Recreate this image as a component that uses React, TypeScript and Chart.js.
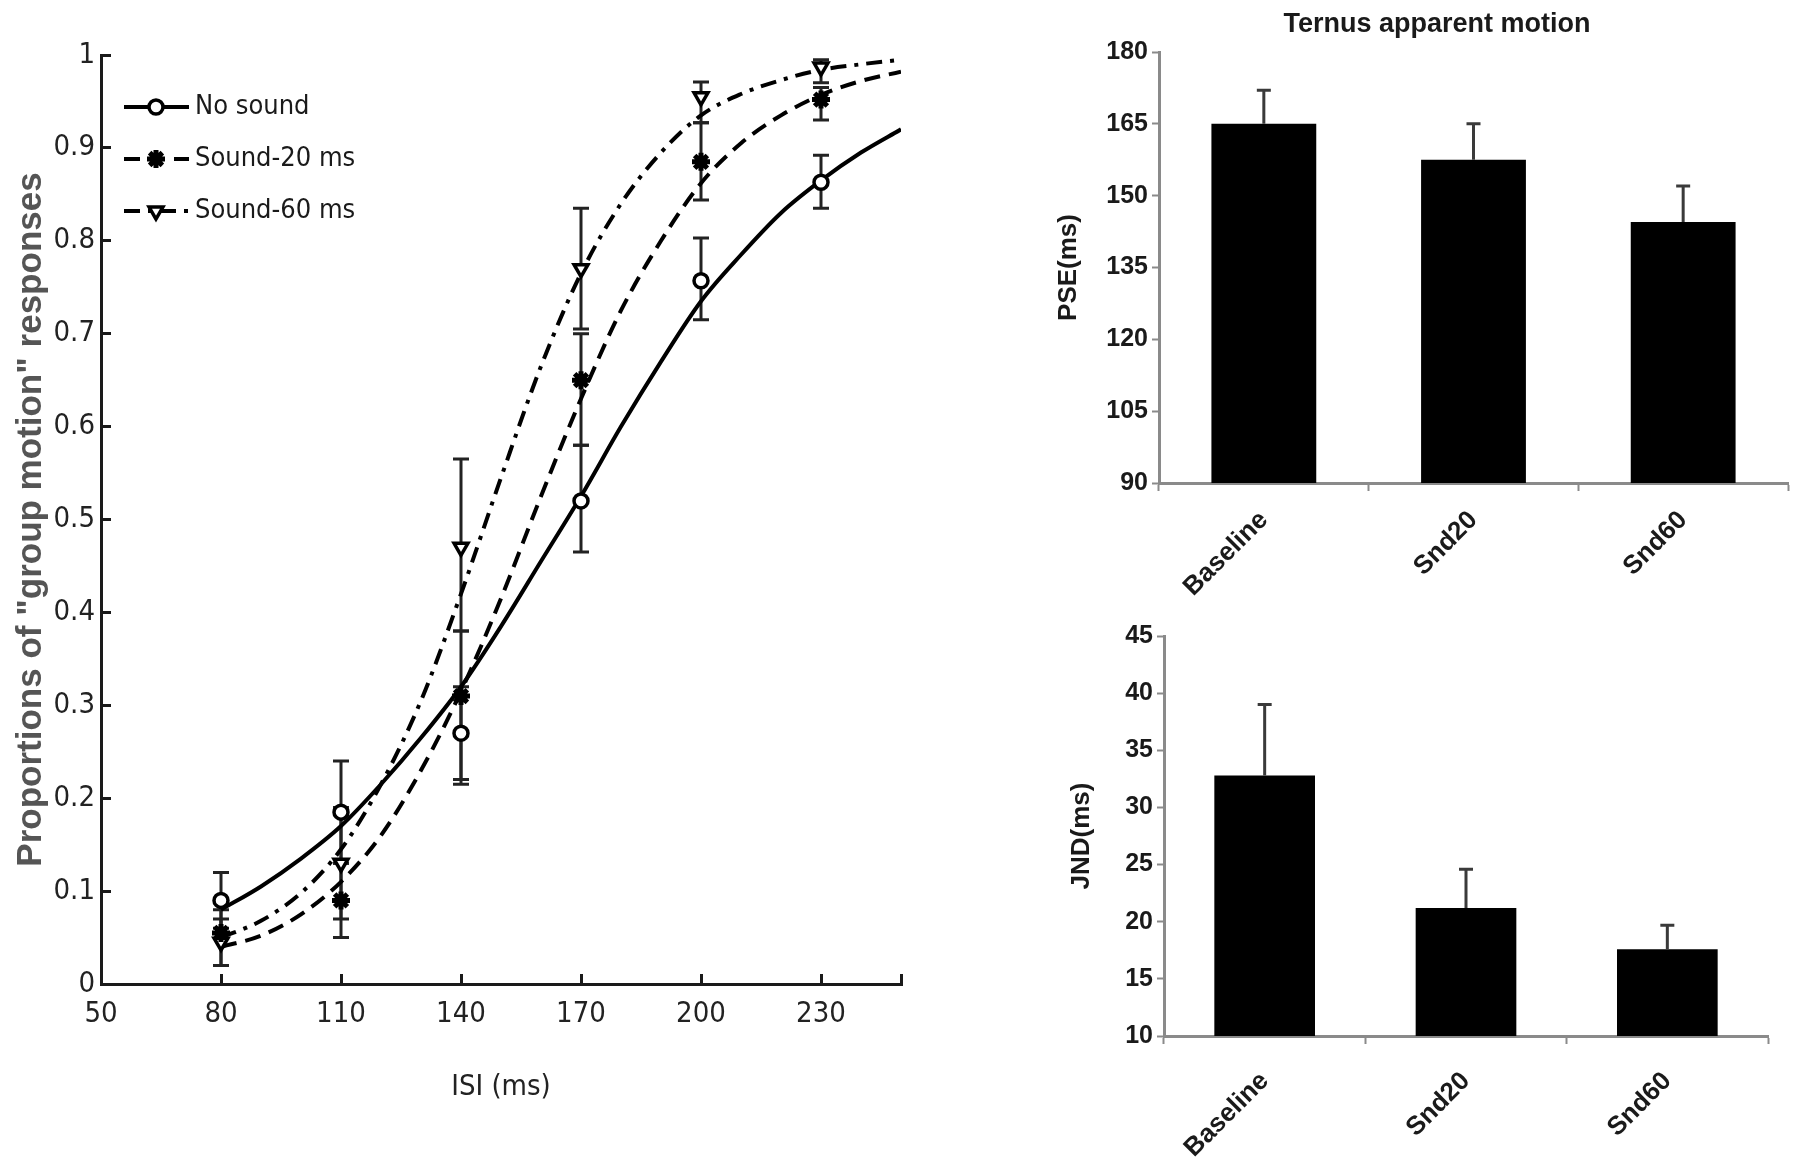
import React, { useEffect, useRef } from 'react';
import { Chart, registerables } from 'chart.js';
import { drawPoint } from 'chart.js/helpers';

Chart.register(...registerables);

// ---- left panel: psychometric data ----
const isiValues = [80, 110, 140, 170, 200, 230];
const isiTicks = [50, 80, 110, 140, 170, 200, 230, 250];
const propTicks = [0, 0.1, 0.2, 0.3, 0.4, 0.5, 0.6, 0.7, 0.8, 0.9, 1];

const noSound = [0.09, 0.185, 0.27, 0.52, 0.757, 0.863];
const noSoundLow = [0.06, 0.13, 0.22, 0.465, 0.715, 0.835];
const noSoundHigh = [0.12, 0.24, 0.32, 0.58, 0.803, 0.892];

const sound20 = [0.055, 0.09, 0.31, 0.65, 0.885, 0.952];
const sound20Low = [0.02, 0.05, 0.215, 0.58, 0.844, 0.93];
const sound20High = [0.08, 0.13, 0.38, 0.70, 0.927, 0.965];

const sound60 = [0.045, 0.13, 0.47, 0.77, 0.955, 0.987];
const sound60Low = [0.02, 0.07, 0.38, 0.705, 0.927, 0.97];
const sound60High = [0.07, 0.19, 0.565, 0.835, 0.971, 0.995];

// fitted curves, every 10 ms
const curveIsi = [80, 90, 100, 110, 120, 130, 140, 150, 160, 170, 180, 190, 200, 210, 220, 230, 240, 250];
const noSoundFit = [0.08, 0.105, 0.135, 0.17, 0.215, 0.265, 0.32, 0.385, 0.455, 0.525, 0.6, 0.67, 0.735, 0.785, 0.83, 0.865, 0.895, 0.92];
const sound20Fit = [0.04, 0.052, 0.075, 0.11, 0.16, 0.23, 0.315, 0.415, 0.525, 0.63, 0.725, 0.8, 0.862, 0.905, 0.935, 0.957, 0.972, 0.982];
const sound60Fit = [0.05, 0.068, 0.098, 0.145, 0.215, 0.305, 0.42, 0.545, 0.665, 0.765, 0.84, 0.895, 0.935, 0.958, 0.973, 0.984, 0.99, 0.995];

// ---- right panels ----
const conditions = ['Baseline', 'Snd20', 'Snd60'];
const pseValues = [165, 157.5, 144.5];
const pseErrTop = [172, 165, 152];
const jndValues = [32.8, 21.2, 17.6];
const jndErrTop = [39, 24.6, 19.7];

const NARROW = '"Liberation Sans Narrow", "DejaVu Sans Condensed", "Liberation Sans", Arial, sans-serif';
const SANS = '"Liberation Sans", Arial, sans-serif';

const DASH20 = [16, 9];
const DASH60 = [16, 8, 4, 8];

const series = [
  { label: 'No sound', values: noSound, low: noSoundLow, high: noSoundHigh, fit: noSoundFit, dash: [] as number[], style: 'circle', rot: 0, fill: '#fff', r: 7, bw: 3.5 },
  { label: 'Sound-20 ms', values: sound20, low: sound20Low, high: sound20High, fit: sound20Fit, dash: DASH20, style: 'star', rot: 0, fill: '#000', r: 9, bw: 5 },
  { label: 'Sound-60 ms', values: sound60, low: sound60Low, high: sound60High, fit: sound60Fit, dash: DASH60, style: 'triangle', rot: 180, fill: '#fff', r: 8, bw: 3.5 },
];

const errorBarsLeft = {
  id: 'errorBarsLeft',
  beforeDatasetsDraw(chart: any) {
    const { ctx, scales: { x, y } } = chart;
    ctx.save();
    ctx.strokeStyle = '#222';
    ctx.lineWidth = 3;
    series.forEach((s) => {
      isiValues.forEach((v, i) => {
        const px = x.getPixelForValue(v);
        const y1 = y.getPixelForValue(s.low[i]);
        const y2 = y.getPixelForValue(s.high[i]);
        ctx.beginPath();
        ctx.moveTo(px, y1); ctx.lineTo(px, y2);
        ctx.moveTo(px - 8, y1); ctx.lineTo(px + 8, y1);
        ctx.moveTo(px - 8, y2); ctx.lineTo(px + 8, y2);
        ctx.stroke();
      });
    });
    ctx.restore();
  },
};

const legendLeft = {
  id: 'legendLeft',
  afterDraw(chart: any) {
    const { ctx } = chart;
    ctx.save();
    series.forEach((s, i) => {
      const cy = 107 + i * 52;
      ctx.strokeStyle = '#000';
      ctx.lineWidth = 4;
      ctx.setLineDash(s.dash);
      ctx.beginPath();
      ctx.moveTo(124, cy); ctx.lineTo(189, cy);
      ctx.stroke();
      ctx.setLineDash([]);
      ctx.fillStyle = s.fill;
      ctx.lineWidth = s.bw;
      drawPoint(ctx, { pointStyle: s.style, rotation: s.rot, radius: s.r, borderWidth: s.bw } as any, 156, cy);
      ctx.fillStyle = '#1a1a1a';
      ctx.font = `27px ${NARROW}`;
      ctx.textAlign = 'left';
      ctx.textBaseline = 'middle';
      ctx.fillText(s.label, 195, cy);
    });
    ctx.restore();
  },
};

function errorBarsBar(tops: number[]) {
  return {
    id: 'errorBarsBar',
    afterDatasetsDraw(chart: any) {
      const { ctx, scales: { y } } = chart;
      const meta = chart.getDatasetMeta(0);
      ctx.save();
      ctx.strokeStyle = '#3a3a3a';
      ctx.lineWidth = 3;
      meta.data.forEach((bar: any, i: number) => {
        const y1 = bar.y;
        const y2 = y.getPixelForValue(tops[i]);
        ctx.beginPath();
        ctx.moveTo(bar.x, y1); ctx.lineTo(bar.x, y2);
        ctx.moveTo(bar.x - 7, y2); ctx.lineTo(bar.x + 7, y2);
        ctx.stroke();
      });
      ctx.restore();
    },
  };
}

const titlePlugin = {
  id: 'panelTitle',
  afterDraw(chart: any) {
    const { ctx } = chart;
    ctx.save();
    ctx.fillStyle = '#1a1a1a';
    ctx.font = `bold 27px ${SANS}`;
    ctx.textAlign = 'center';
    ctx.textBaseline = 'middle';
    ctx.fillText('Ternus apparent motion', 397, 25);
    ctx.restore();
  },
};

function leftConfig(): any {
  const datasets: any[] = [];
  series.forEach((s) => {
    datasets.push({
      label: s.label + ' data',
      data: isiValues.map((v, i) => ({ x: v, y: s.values[i] })),
      showLine: false,
      pointStyle: s.style,
      rotation: s.rot,
      pointRadius: s.r,
      pointBorderWidth: s.bw,
      pointBackgroundColor: s.fill,
      pointBorderColor: '#000',
      order: 0,
    });
  });
  series.forEach((s) => {
    datasets.push({
      label: s.label,
      data: curveIsi.map((v, i) => ({ x: v, y: s.fit[i] })),
      showLine: true,
      borderColor: '#000',
      borderWidth: 4,
      borderDash: s.dash,
      pointRadius: 0,
      cubicInterpolationMode: 'monotone',
      fill: false,
      order: 1,
    });
  });
  const tickFont = { family: NARROW, size: 29 };
  return {
    type: 'line',
    data: { datasets },
    options: {
      animation: false,
      responsive: false,
      maintainAspectRatio: false,
      layout: { padding: { top: 55, right: 29, left: 0, bottom: 0 } },
      plugins: { legend: { display: false }, tooltip: { enabled: false } },
      scales: {
        x: {
          type: 'linear',
          min: 50,
          max: 250,
          afterBuildTicks: (s: any) => { s.ticks = isiTicks.map((v) => ({ value: v })); },
          afterFit: (s: any) => { s.height = 175; },
          border: { color: '#1a1a1a', width: 3 },
          grid: { drawOnChartArea: false, tickLength: -10, tickColor: '#1a1a1a', tickWidth: 3 },
          ticks: { padding: 23, color: '#222', font: tickFont, maxRotation: 0, autoSkip: false,
            callback: (v: any) => (v === 250 ? '' : String(v)) },
          title: { display: true, text: 'ISI (ms)', color: '#222', font: tickFont, padding: { top: 0, bottom: 54 } },
        },
        y: {
          min: 0,
          max: 1,
          afterBuildTicks: (s: any) => { s.ticks = propTicks.map((v) => ({ value: v })); },
          afterFit: (s: any) => { s.width = 101; },
          border: { color: '#1a1a1a', width: 3 },
          grid: { drawOnChartArea: false, tickLength: -10, tickColor: '#1a1a1a', tickWidth: 3 },
          ticks: { padding: 16, color: '#222', font: tickFont, autoSkip: false,
            callback: (v: any) => String(+Number(v).toFixed(1)) },
          title: { display: true, text: 'Proportions of "group motion" responses', color: '#555',
            font: { family: SANS, size: 35, weight: 'bold' }, padding: { top: 10, bottom: 0 } },
        },
      },
    },
    plugins: [errorBarsLeft, legendLeft],
  };
}

function barConfig(values: number[], tops: number[], yMin: number, yMax: number, step: number,
  yTitle: string, pad: any, yWidth: number, xHeight: number, titlePad: number, labelPad: number, extra: any[]): any {
  const gray = '#8a8a8a';
  return {
    type: 'bar',
    data: {
      labels: conditions,
      datasets: [{ data: values, backgroundColor: '#000', borderWidth: 0, barPercentage: 0.5, categoryPercentage: 1 }],
    },
    options: {
      animation: false,
      responsive: false,
      maintainAspectRatio: false,
      layout: { padding: pad },
      plugins: { legend: { display: false }, tooltip: { enabled: false } },
      scales: {
        x: {
          afterFit: (s: any) => { s.height = xHeight; },
          border: { color: gray, width: 3 },
          grid: { drawOnChartArea: false, offset: true, tickLength: 8, tickColor: gray, tickWidth: 2 },
          ticks: { minRotation: 45, maxRotation: 45, padding: labelPad, color: '#1a1a1a',
            font: { family: SANS, size: 26, weight: 'bold' } },
        },
        y: {
          min: yMin,
          max: yMax,
          afterFit: (s: any) => { s.width = yWidth; },
          border: { color: gray, width: 3 },
          grid: { drawOnChartArea: false, tickLength: 7, tickColor: gray, tickWidth: 2 },
          ticks: { stepSize: step, padding: 4, color: '#1a1a1a', font: { family: SANS, size: 25, weight: 'bold' } },
          title: { display: true, text: yTitle, color: '#1a1a1a', font: { family: SANS, size: 26, weight: 'bold' },
            padding: { top: titlePad, bottom: 0 } },
        },
      },
    },
    plugins: [errorBarsBar(tops), ...extra],
  };
}

function ChartCanvas({ make, left, top, width, height }: { make: () => any; left: number; top: number; width: number; height: number }) {
  const canvasRef = useRef<HTMLCanvasElement>(null);
  const chartRef = useRef<Chart | null>(null);

  useEffect(() => {
    if (!canvasRef.current) return;
    if (chartRef.current) chartRef.current.destroy();
    chartRef.current = new Chart(canvasRef.current, make());
    return () => {
      if (chartRef.current) {
        chartRef.current.destroy();
        chartRef.current = null;
      }
    };
  }, [make]);

  return (
    <div style={{ position: 'absolute', left, top, width, height }}>
      <canvas ref={canvasRef} width={width} height={height} style={{ width, height, display: 'block' }} />
    </div>
  );
}

const makeLeft = () => leftConfig();
const makePse = () => barConfig(pseValues, pseErrTop, 90, 180, 15, 'PSE(ms)',
  { top: 52, right: 12, left: 0, bottom: 0 }, 119, 117, 13, 14, [titlePlugin]);
const makeJnd = () => barConfig(jndValues, jndErrTop, 10, 45, 5, 'JND(ms)',
  { top: 36, right: 32, left: 0, bottom: 0 }, 124, 123, 26, 22, []);

export default function App() {
  return (
    <div style={{ position: 'absolute', left: 0, top: 0, width: 1800, height: 1159, background: '#fff', overflow: 'hidden' }}>
      <ChartCanvas make={makeLeft} left={0} top={0} width={930} height={1159} />
      <ChartCanvas make={makePse} left={1040} top={0} width={760} height={600} />
      <ChartCanvas make={makeJnd} left={1040} top={600} width={760} height={559} />
    </div>
  );
}
